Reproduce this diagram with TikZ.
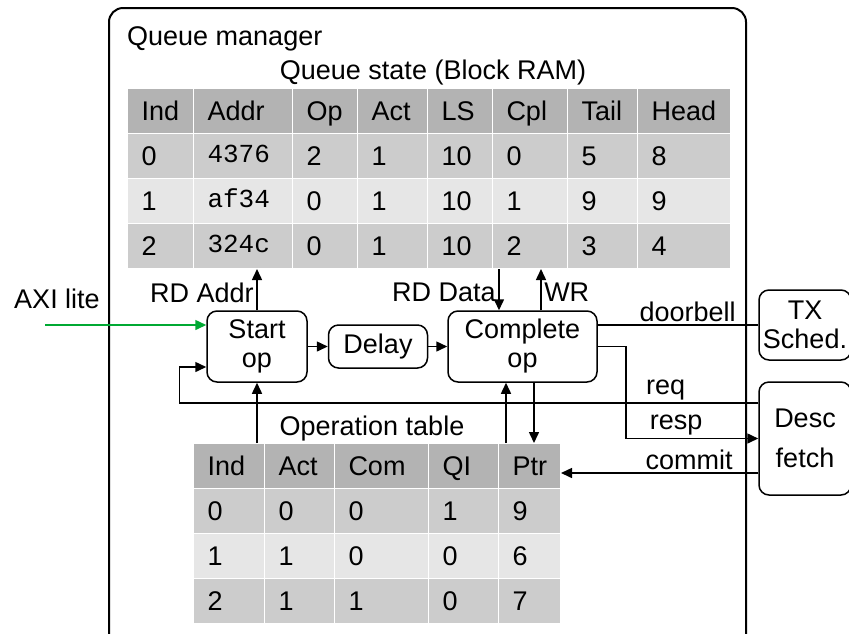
\documentclass[tikz,border=0pt]{standalone}
\usepackage{fontspec}
\setmainfont{Liberation Sans}
\setmonofont{Liberation Mono}
\usepackage{xcolor}
\usetikzlibrary{positioning, arrows.meta, calc}

\definecolor{headgray}{RGB}{179,179,179}
\definecolor{rowdark}{RGB}{204,204,204}
\definecolor{rowlight}{RGB}{230,230,230}
\definecolor{axigreen}{RGB}{0,169,51}

\newcommand{\diagfont}{\fontsize{27}{29}\selectfont}
\newcommand{\addr}[1]{\raisebox{3pt}{\ttfamily\fontsize{26}{29}\selectfont #1}}

\tikzset{
    cell/.style={
        rectangle, draw=white, line width=1pt,
        anchor=north west, minimum height=45,
        inner xsep=14pt, text height=19pt, text depth=0pt,
        align=left, font=\diagfont
    },
    procbox/.style={
        rectangle, draw, line width=1.5pt, rounded corners=10pt,
        align=center, font=\diagfont, inner sep=2pt
    },
    arrow/.style={
        -{Triangle[length=11pt,width=10pt]}, line width=1.5pt
    },
    axiarrow/.style={
        arrow, draw=axigreen
    },
    link/.style={
        line width=1.5pt
    },
    lbl/.style={
        font=\diagfont, inner sep=2.5pt
    }
}

\begin{document}
\begin{tikzpicture}[x=1pt, y=-1pt]
    \useasboundingbox (0,0) rectangle (849,633);

    % Frame
    \node[draw, line width=2pt, rounded corners=14pt, anchor=north west,
          minimum width=637, minimum height=640, inner sep=0] (qm) at (108,7) {};
    \node[lbl, anchor=base west, inner sep=0] (qmtitle) at (127,45) {Queue manager};

    % Queue state table
    \node[lbl, anchor=base] (qstitle) at (433,79) {Queue state (Block RAM)};
    \foreach \x/\w/\h/\ra/\rb/\rc [count=\col] in {
        127/66/Ind/0/1/2,
        193/99/Addr/\addr{4376}/\addr{af34}/\addr{324c},
        292/65/Op/2/0/0,
        357/70/Act/1/1/1,
        427/65/LS/10/10/10,
        492/75/Cpl/0/1/2,
        567/70/Tail/5/9/3,
        637/93/Head/8/9/4} {
        \pgfmathsetmacro\tw{\w-28}
        \node[cell, fill=headgray, text width=\tw pt] (qs-0-\col) at (\x,88) {\h};
        \node[cell, fill=rowdark, text width=\tw pt] (qs-1-\col) at (\x,133) {\ra};
        \node[cell, fill=rowlight, text width=\tw pt] (qs-2-\col) at (\x,178) {\rb};
        \node[cell, fill=rowdark, text width=\tw pt] (qs-3-\col) at (\x,223) {\rc};
    }

    % Operation table
    \node[lbl, anchor=base] (ottitle) at (372,435) {Operation table};
    \foreach \x/\w/\h/\ra/\rb/\rc [count=\col] in {
        193/71/Ind/0/1/2,
        264/70/Act/0/1/1,
        334/94/Com/0/0/1,
        428/70/QI/1/0/0,
        498/62/Ptr/9/6/7} {
        \pgfmathsetmacro\tw{\w-28}
        \node[cell, fill=headgray, text width=\tw pt] (ot-0-\col) at (\x,443) {\h};
        \node[cell, fill=rowdark, text width=\tw pt] (ot-1-\col) at (\x,488) {\ra};
        \node[cell, fill=rowlight, text width=\tw pt] (ot-2-\col) at (\x,533) {\rb};
        \node[cell, fill=rowdark, text width=\tw pt] (ot-3-\col) at (\x,578) {\rc};
    }

    % Pipeline blocks
    \node[procbox, minimum width=100, minimum height=71] (start) at (257,346.5) {Start\\op};
    \node[procbox, minimum width=99, minimum height=43, right=20pt of start] (delay) {Delay};
    \node[procbox, minimum width=149, minimum height=71, right=19pt of delay] (complete) {Complete\\op};

    % External blocks
    \node[procbox, minimum width=92, minimum height=70] (txsched) at (805,325) {TX\\Sched.};
    \node[procbox, minimum width=92, minimum height=113] (descfetch) at (805,438.5) {Desc\\[11pt]fetch};

    % AXI lite input
    \coordinate (axisrc) at (45,325);
    \node[lbl, anchor=base] (axilbl) at (57,308) {AXI lite};
    \draw[axiarrow] (axisrc) -- (axisrc -| start.west);

    % Pipeline arrows
    \draw[arrow] (start) -- (delay);
    \draw[arrow] (delay) -- (complete);

    % Queue state access
    \coordinate (rdin) at ([xshift=-23.5pt]complete.north);
    \coordinate (wrout) at ([xshift=18.5pt]complete.north);
    \draw[arrow] (start.north) -- node[lbl, midway, left, yshift=-3pt] {RD Addr} (start.north |- qs-3-2.south);
    \draw[arrow] (rdin |- qs-3-6.south) -- node[lbl, midway, left, yshift=-3pt] {RD Data} (rdin);
    \draw[arrow] (wrout) -- node[lbl, midway, right, yshift=-3pt] {WR} (wrout |- qs-3-6.south);

    % Operation table access
    \coordinate (cplin) at ([xshift=-16.5pt]complete.south);
    \coordinate (cplout) at ([xshift=11.5pt]complete.south);
    \draw[arrow] (start.south |- ot-0-1.north) -- (start.south);
    \draw[arrow] (cplin |- ot-0-5.north) -- (cplin);
    \draw[arrow] (cplout) -- (cplout |- ot-0-5.north);

    % Scheduler and descriptor fetch
    \coordinate (reqsrc) at ([yshift=35.5pt]descfetch.west);
    \coordinate (reqdst) at ([yshift=-20.5pt]start.west);
    \coordinate (commitsrc) at ([yshift=-34.5pt]descfetch.west);
    \draw[link] (complete.east |- txsched.west) -- node[lbl, pos=0.56, above] {doorbell} (txsched.west);
    \draw[arrow] (reqsrc) -| node[lbl, pos=0.08, above] {req} ([xshift=-27pt]reqdst) -- (reqdst);
    \draw[arrow] (complete.east) -- ++(28,0) |- node[lbl, pos=0.69, above] {resp} (descfetch.west);
    \draw[arrow] (commitsrc) -- node[lbl, pos=0.35, above] {commit} (commitsrc -| ot-0-5.east);

\end{tikzpicture}
\end{document}
